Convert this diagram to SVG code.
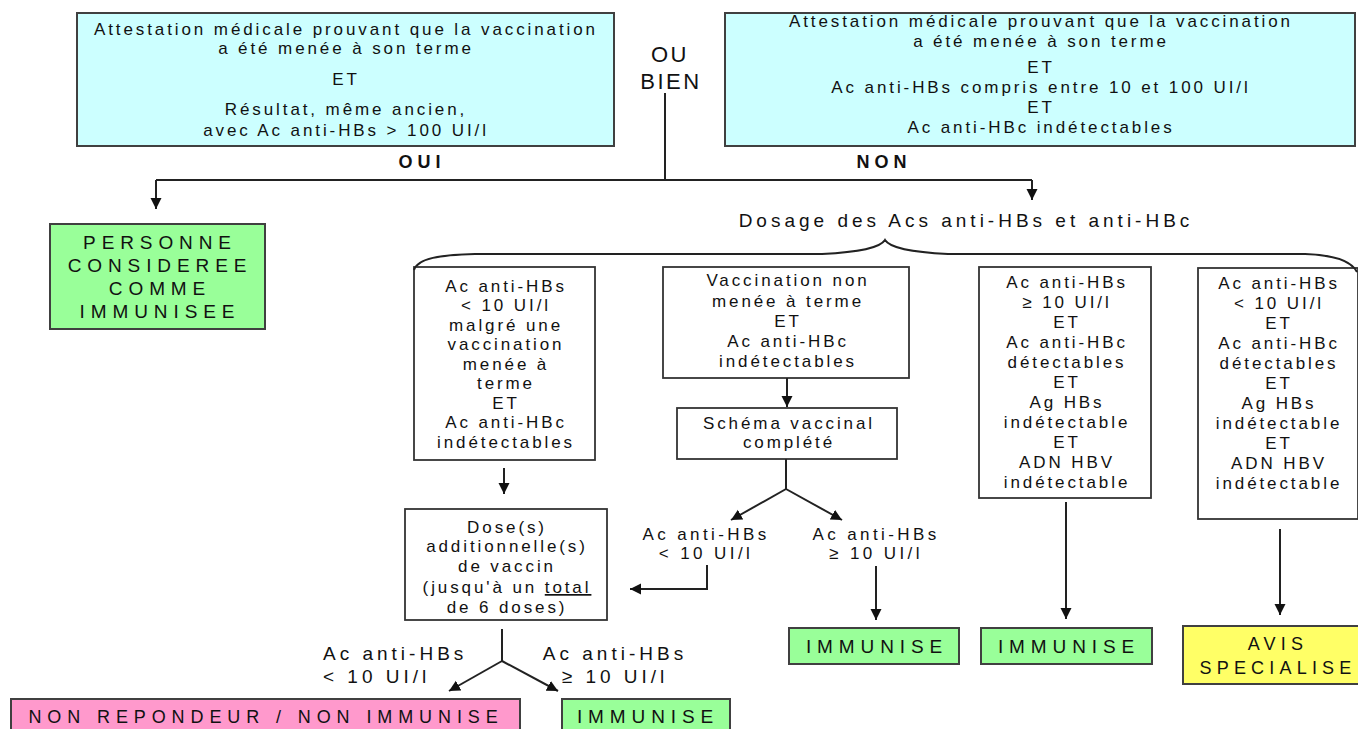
<svg xmlns="http://www.w3.org/2000/svg" width="1358" height="729" viewBox="0 0 1358 729">
<style>
  .bg { fill:#ffffff; }
  .box { fill:#ffffff; stroke:#333333; stroke-width:1.8; }
  .cyan { fill:#ccffff; stroke:#404040; stroke-width:2; }
  .green { fill:#99ff99; stroke:#404040; stroke-width:2; }
  .pink { fill:#ff99cc; stroke:#404040; stroke-width:2; }
  .yellow { fill:#ffff66; stroke:#404040; stroke-width:2; }
  text { font-family:"Liberation Sans", Arial, sans-serif; fill:#111111; text-anchor:middle; }
  .t { font-size:17px; letter-spacing:2.9px; }
  .lbl { font-size:17px; letter-spacing:3.4px; }
  .lbl2 { font-size:19px; letter-spacing:4px; }
  .big { font-size:19px; letter-spacing:5.9px; }
  .mid { font-size:18px; letter-spacing:5.2px; }
  .nr { font-size:18px; letter-spacing:5.9px; }
  .bold { font-size:18px; font-weight:bold; letter-spacing:5px; }
  .ou { font-size:22px; letter-spacing:2.5px; }
  .dos { font-size:19px; letter-spacing:4px; }
  .ln { fill:none; stroke:#222222; stroke-width:2; }
</style>
<defs>
  <marker id="arr" markerUnits="userSpaceOnUse" markerWidth="12" markerHeight="12" refX="11" refY="6" orient="auto">
    <path d="M0,0.5 L11,6 L0,11.5 z" fill="#111111"/>
  </marker>
</defs>
<rect class="bg" x="0" y="0" width="1358" height="729"/>

<g id="box-attestation-oui">
  <rect class="cyan" x="77" y="13" width="537" height="133"/>
  <text class="t" x="346" y="35">Attestation médicale prouvant que la vaccination</text>
  <text class="t" x="346" y="54">a été menée à son terme</text>
  <text class="t" x="346" y="85">ET</text>
  <text class="t" x="346" y="115">Résultat, même ancien,</text>
  <text class="t" x="346" y="136">avec Ac anti-HBs &gt; 100 UI/l</text>
</g>

<g id="box-attestation-non">
  <rect class="cyan" x="725" y="13" width="630" height="133"/>
  <text class="t" x="1041" y="27">Attestation médicale prouvant que la vaccination</text>
  <text class="t" x="1041" y="47">a été menée à son terme</text>
  <text class="t" x="1041" y="73">ET</text>
  <text class="t" x="1041" y="93">Ac anti-HBs compris entre 10 et 100 UI/l</text>
  <text class="t" x="1041" y="113">ET</text>
  <text class="t" x="1041" y="133">Ac anti-HBc indétectables</text>
</g>

<g id="label-ou-bien">
  <text class="ou" x="670" y="62">OU</text>
  <text class="ou" x="671" y="89">BIEN</text>
</g>

<g id="label-oui"><text class="bold" x="422" y="168">OUI</text></g>
<g id="label-non"><text class="bold" x="884" y="168">NON</text></g>

<g id="box-personne-immunisee">
  <rect class="green" x="50" y="224" width="215" height="105"/>
  <text class="big" x="160" y="249">PERSONNE</text>
  <text class="big" x="160" y="272">CONSIDEREE</text>
  <text class="big" x="160" y="295">COMME</text>
  <text class="big" x="160" y="318">IMMUNISEE</text>
</g>

<g id="label-dosage">
  <text class="dos" x="966" y="227">Dosage des Acs anti-HBs et anti-HBc</text>
</g>

<g id="box-non-repondeur-initial">
  <rect class="box" x="414" y="267" width="181" height="193"/>
  <text class="t" x="506" y="292">Ac anti-HBs</text>
  <text class="t" x="506" y="311">&lt; 10 UI/l</text>
  <text class="t" x="506" y="331">malgré une</text>
  <text class="t" x="506" y="350">vaccination</text>
  <text class="t" x="506" y="370">menée à</text>
  <text class="t" x="506" y="389">terme</text>
  <text class="t" x="506" y="409">ET</text>
  <text class="t" x="506" y="428">Ac anti-HBc</text>
  <text class="t" x="506" y="448">indétectables</text>
</g>

<g id="box-vaccination-non-menee">
  <rect class="box" x="663" y="267" width="246" height="111"/>
  <text class="t" x="788" y="286">Vaccination non</text>
  <text class="t" x="788" y="307">menée à terme</text>
  <text class="t" x="788" y="327">ET</text>
  <text class="t" x="788" y="347">Ac anti-HBc</text>
  <text class="t" x="788" y="367">indétectables</text>
</g>

<g id="box-schema-complete">
  <rect class="box" x="677" y="408" width="220" height="51"/>
  <text class="t" x="789" y="429">Schéma vaccinal</text>
  <text class="t" x="789" y="448">complété</text>
</g>

<g id="box-anti-hbc-detectables-1">
  <rect class="box" x="979" y="267" width="172" height="231"/>
  <text class="t" x="1067" y="288">Ac anti-HBs</text>
  <text class="t" x="1067" y="308">≥ 10 UI/l</text>
  <text class="t" x="1067" y="328">ET</text>
  <text class="t" x="1067" y="348">Ac anti-HBc</text>
  <text class="t" x="1067" y="368">détectables</text>
  <text class="t" x="1067" y="388">ET</text>
  <text class="t" x="1067" y="408">Ag HBs</text>
  <text class="t" x="1067" y="428">indétectable</text>
  <text class="t" x="1067" y="448">ET</text>
  <text class="t" x="1067" y="468">ADN HBV</text>
  <text class="t" x="1067" y="488">indétectable</text>
</g>

<g id="box-anti-hbc-detectables-2">
  <rect class="box" x="1198" y="268" width="160" height="251"/>
  <text class="t" x="1279" y="289">Ac anti-HBs</text>
  <text class="t" x="1279" y="309">&lt; 10 UI/l</text>
  <text class="t" x="1279" y="329">ET</text>
  <text class="t" x="1279" y="349">Ac anti-HBc</text>
  <text class="t" x="1279" y="369">détectables</text>
  <text class="t" x="1279" y="389">ET</text>
  <text class="t" x="1279" y="409">Ag HBs</text>
  <text class="t" x="1279" y="429">indétectable</text>
  <text class="t" x="1279" y="449">ET</text>
  <text class="t" x="1279" y="469">ADN HBV</text>
  <text class="t" x="1279" y="489">indétectable</text>
</g>

<g id="box-doses-additionnelles">
  <rect class="box" x="405" y="509" width="202" height="111"/>
  <text class="t" x="507" y="533">Dose(s)</text>
  <text class="t" x="507" y="552">additionnelle(s)</text>
  <text class="t" x="507" y="572">de vaccin</text>
  <text class="t" x="507" y="593">(jusqu'à un <tspan text-decoration="underline">total</tspan></text>
  <text class="t" x="507" y="613">de 6 doses)</text>
</g>

<g id="label-middle-lt10">
  <text class="lbl" x="706" y="540">Ac anti-HBs</text>
  <text class="lbl" x="706" y="559">&lt; 10 UI/l</text>
</g>
<g id="label-middle-ge10">
  <text class="lbl" x="876" y="540">Ac anti-HBs</text>
  <text class="lbl" x="876" y="559">≥ 10 UI/l</text>
</g>

<g id="box-immunise-1">
  <rect class="green" x="789" y="628" width="170" height="36"/>
  <text class="big" x="877" y="653">IMMUNISE</text>
</g>
<g id="box-immunise-2">
  <rect class="green" x="981" y="628" width="171" height="36"/>
  <text class="big" x="1069" y="653">IMMUNISE</text>
</g>
<g id="box-avis-specialise">
  <rect class="yellow" x="1183" y="626" width="195" height="58"/>
  <text class="mid" x="1278" y="650">AVIS</text>
  <text class="mid" x="1278" y="674">SPECIALISE</text>
</g>

<g id="label-bottom-lt10">
  <text class="lbl2" x="323" y="660" style="text-anchor:start">Ac anti-HBs</text>
  <text class="lbl2" x="323" y="683" style="text-anchor:start">&lt; 10 UI/l</text>
</g>
<g id="label-bottom-ge10">
  <text class="lbl2" x="615" y="660">Ac anti-HBs</text>
  <text class="lbl2" x="615" y="683">≥ 10 UI/l</text>
</g>

<g id="box-non-repondeur">
  <rect class="pink" x="11" y="699" width="509" height="40"/>
  <text class="nr" x="266" y="723">NON REPONDEUR / NON IMMUNISE</text>
</g>
<g id="box-immunise-3">
  <rect class="green" x="562" y="699" width="168" height="40"/>
  <text class="big" x="648" y="723">IMMUNISE</text>
</g>

<g id="connectors">
  <path class="ln" d="M665 93 V180"/>
  <path class="ln" d="M156 180 H1032"/>
  <path class="ln" d="M156 180 V209" marker-end="url(#arr)"/>
  <path class="ln" d="M1032 180 V200" marker-end="url(#arr)"/>
  <path class="ln" d="M414 270 C418 258 440 255 475 254 L822 254 C860 252 880 248 885 240 C890 248 910 252 948 254 L1305 254 C1335 255 1352 262 1357 272"/>
  <path class="ln" d="M504 468 V494" marker-end="url(#arr)"/>
  <path class="ln" d="M787 378 V407" marker-end="url(#arr)"/>
  <path class="ln" d="M786 459 V489"/>
  <path class="ln" d="M786 489 L731 520" marker-end="url(#arr)"/>
  <path class="ln" d="M786 489 L842 520" marker-end="url(#arr)"/>
  <path class="ln" d="M707 565 V589 H630" marker-end="url(#arr)"/>
  <path class="ln" d="M876 566 V620" marker-end="url(#arr)"/>
  <path class="ln" d="M1066 502 V619" marker-end="url(#arr)"/>
  <path class="ln" d="M1280 529 V615" marker-end="url(#arr)"/>
  <path class="ln" d="M502 629 V661"/>
  <path class="ln" d="M502 661 L449 691" marker-end="url(#arr)"/>
  <path class="ln" d="M502 661 L558 691" marker-end="url(#arr)"/>
</g>
</svg>
